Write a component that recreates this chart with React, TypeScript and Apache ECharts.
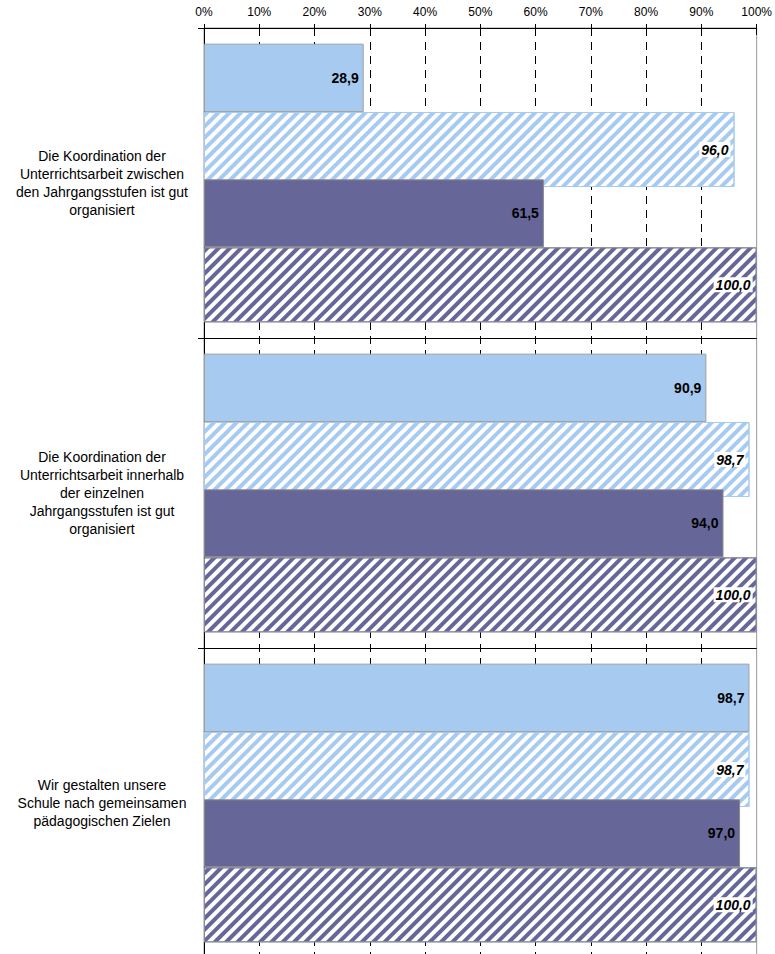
import React, { useEffect, useRef } from 'react';
import * as echarts from 'echarts';

const categories: string[] = [
  'Die Koordination der\nUnterrichtsarbeit zwischen\nden Jahrgangsstufen ist gut\norganisiert',
  'Die Koordination der\nUnterrichtsarbeit innerhalb\nder einzelnen\nJahrgangsstufen ist gut\norganisiert',
  'Wir gestalten unsere\nSchule nach gemeinsamen\npädagogischen Zielen',
];

const seriesNames = ['Schule 1', 'Schule 2', 'Schule 3', 'Schule 4'];
const lightSolid: number[] = [28.9, 90.9, 98.7];
const lightHatched: number[] = [96.0, 98.7, 98.7];
const darkSolid: number[] = [61.5, 94.0, 97.0];
const darkHatched: number[] = [100.0, 100.0, 100.0];
const spacer: string[] = ['-', '-', '-'];

const FONT = 'Arial, "Liberation Sans", sans-serif';
const LIGHT = '#a6caf0';
const DARK = '#666699';

const fmt = (p: any) => Number(p.value).toFixed(1).replace('.', ',');

const solidLabel = {
  show: true,
  position: 'insideRight',
  distance: 5,
  formatter: fmt,
  color: '#000',
  fontFamily: FONT,
  fontSize: 14,
  fontWeight: 'bold',
};

const hatchLabel = {
  ...solidLabel,
  distance: 4,
  fontStyle: 'italic',
  backgroundColor: '#fff',
  padding: [1, 2, 0, 2],
};

const hatchDecal = (color: string) => ({
  symbol: 'rect',
  symbolSize: 1,
  color,
  dashArrayX: [1, 0],
  dashArrayY: [4, 4],
  rotation: -Math.PI / 4,
});

export default function App() {
  const ref = useRef<HTMLDivElement>(null);
  useEffect(() => {
    if (!ref.current) return;
    const chart = echarts.init(ref.current, undefined, { renderer: 'svg' });
    const gridColors = ['#000', '#000', '#000', '#000', '#000', '#000', '#000', '#000', '#000', '#000', 'rgba(0,0,0,0)'];
    chart.setOption({
      animation: false,
      backgroundColor: '#fff',
      grid: {
        left: 204,
        right: 18,
        top: 28,
        bottom: 4,
        show: true,
        borderColor: '#999',
        borderWidth: 1,
        backgroundColor: 'transparent',
      },
      xAxis: [
        {
          type: 'value',
          position: 'top',
          min: 0,
          max: 100,
          interval: 10,
          axisLine: { show: true, lineStyle: { color: '#000', width: 1 } },
          axisTick: { show: true, length: 4, lineStyle: { color: '#000' } },
          axisLabel: {
            formatter: '{value}%',
            color: '#000',
            fontFamily: FONT,
            fontSize: 12,
            margin: 10,
          },
          splitLine: {
            show: true,
            lineStyle: { color: gridColors, type: [8, 6], width: 1 },
          },
        },
        {
          type: 'value',
          position: 'top',
          min: 0,
          max: 100,
          interval: 10,
          axisLine: { show: false },
          axisTick: { show: true, inside: true, length: 7, lineStyle: { color: '#000' } },
          axisLabel: { show: false },
          splitLine: { show: false },
        },
      ],
      yAxis: [
        {
          type: 'category',
          inverse: true,
          data: categories,
          axisLine: { show: true, lineStyle: { color: '#000', width: 1 } },
          axisTick: { show: true, length: 6, lineStyle: { color: '#000' } },
          splitLine: { show: true, lineStyle: { color: '#000', width: 1 } },
          axisLabel: {
            color: '#000',
            fontFamily: FONT,
            fontSize: 14,
            lineHeight: 18,
            align: 'center',
            margin: 102,
          },
        },
        {
          type: 'category',
          inverse: true,
          data: categories,
          show: false,
        },
      ],
      series: [
        {
          name: seriesNames[0],
          type: 'bar',
          yAxisIndex: 0,
          data: lightSolid,
          barWidth: 68.4,
          barGap: '0%',
          z: 2,
          itemStyle: { color: LIGHT, borderColor: '#a0a0a0', borderWidth: 1 },
          label: solidLabel,
        },
        {
          name: 'spacerA',
          type: 'bar',
          yAxisIndex: 0,
          data: spacer,
          barWidth: 67.3,
          barGap: '0%',
          silent: true,
          itemStyle: { color: 'transparent' },
        },
        {
          name: seriesNames[2],
          type: 'bar',
          yAxisIndex: 0,
          data: darkSolid,
          barWidth: 68,
          barGap: '0%',
          z: 4,
          itemStyle: { color: DARK, borderColor: '#8a8a8a', borderWidth: 1 },
          label: solidLabel,
        },
        {
          name: seriesNames[3],
          type: 'bar',
          yAxisIndex: 0,
          data: darkHatched,
          barWidth: 75,
          barGap: '0%',
          z: 2,
          itemStyle: {
            color: '#fff',
            borderColor: '#8a8a9a',
            borderWidth: 1,
            decal: hatchDecal(DARK),
          },
          label: hatchLabel,
        },
        {
          name: seriesNames[1],
          type: 'bar',
          yAxisIndex: 1,
          data: lightHatched,
          barWidth: 75,
          barGap: '0%',
          z: 3,
          itemStyle: {
            color: '#fff',
            borderColor: LIGHT,
            borderWidth: 1,
            decal: hatchDecal(LIGHT),
          },
          label: hatchLabel,
        },
        {
          name: 'spacerB',
          type: 'bar',
          yAxisIndex: 1,
          data: spacer,
          barWidth: 67,
          barGap: '0%',
          silent: true,
          itemStyle: { color: 'transparent' },
        },
      ],
    });
    return () => chart.dispose();
  }, []);
  return (
    <div
      ref={ref}
      style={{ position: 'fixed', left: 0, top: 0, width: 775, height: 962, background: '#fff' }}
    />
  );
}
